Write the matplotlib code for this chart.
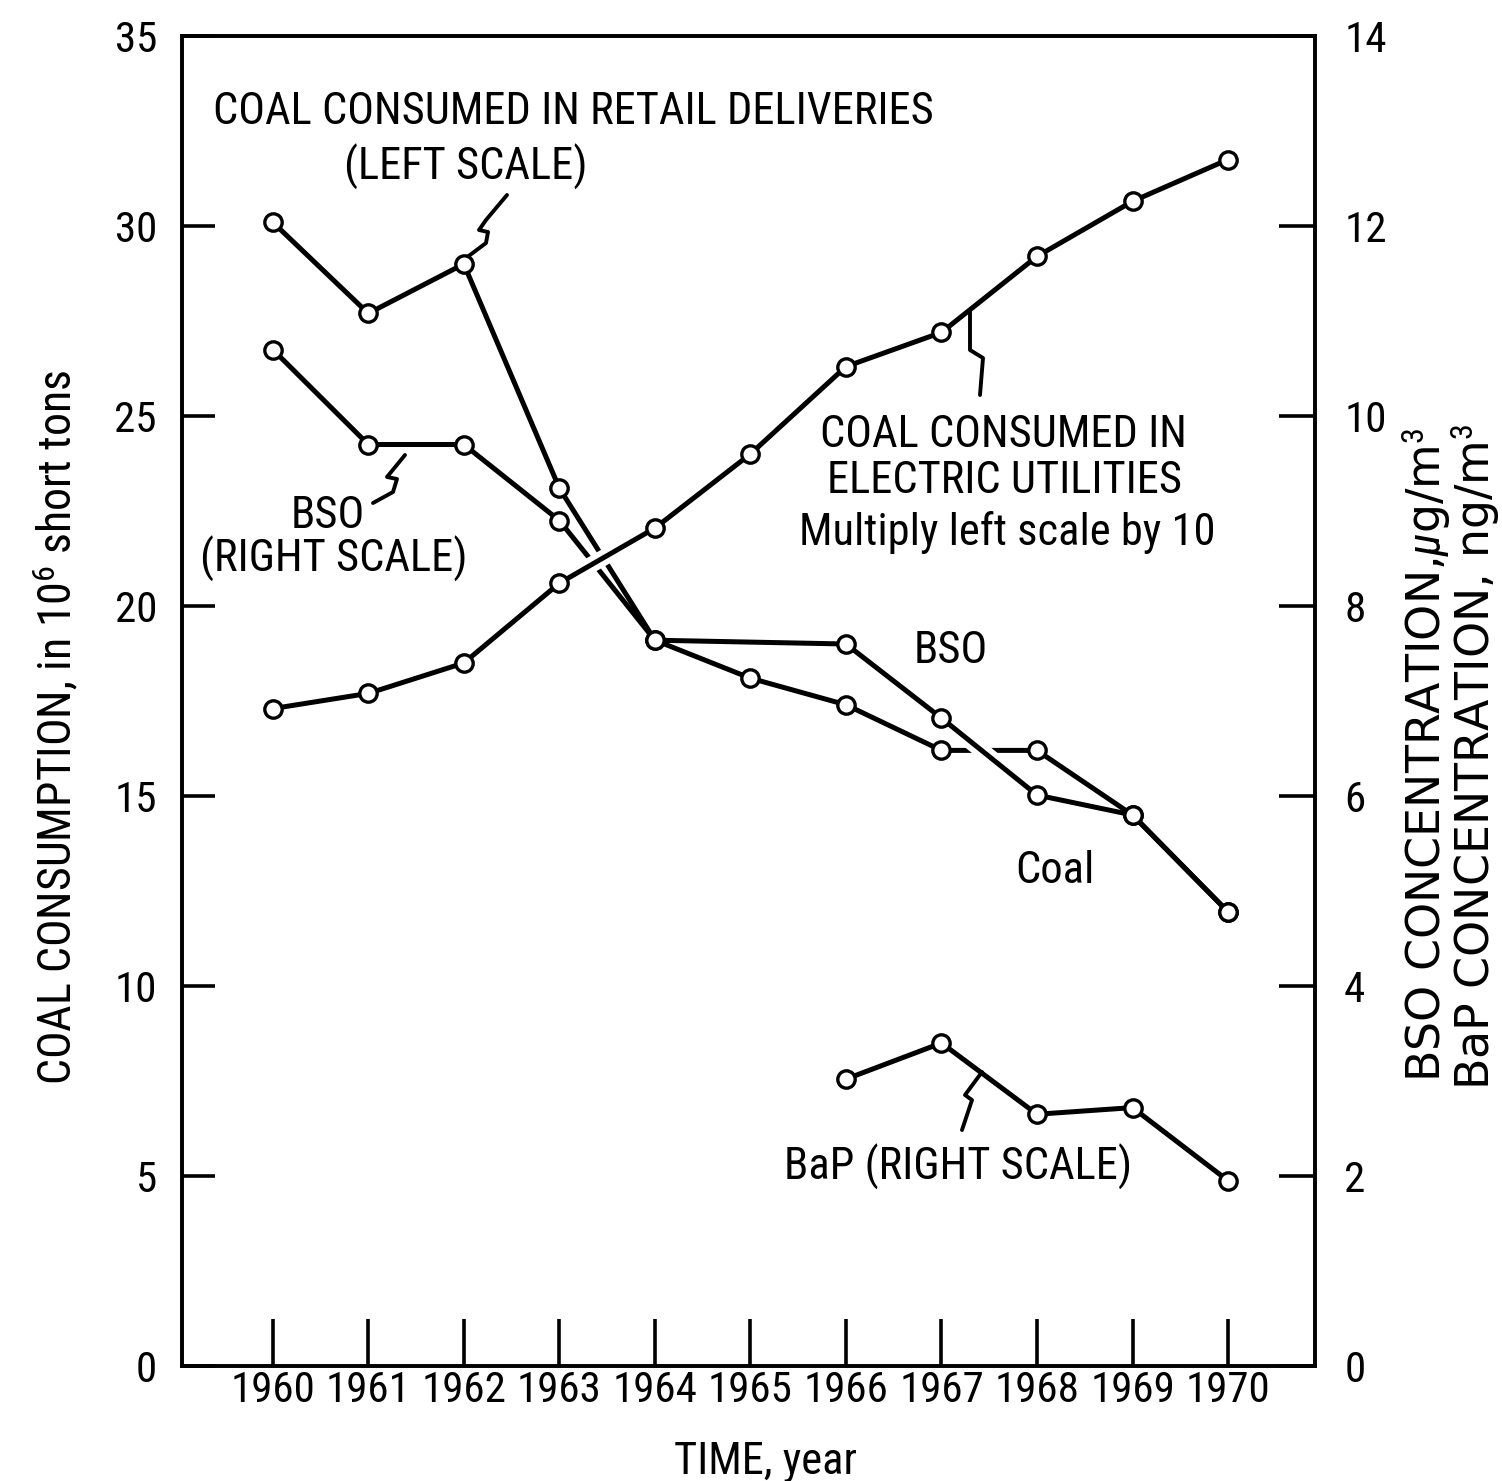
import matplotlib
matplotlib.use("Agg")
import matplotlib.pyplot as plt
import matplotlib.patheffects as pe
from matplotlib import font_manager as fm

# ---------------- data ----------------
years = [1960, 1961, 1962, 1963, 1964, 1965, 1966, 1967, 1968, 1969, 1970]
coal_retail = [30.1, 27.7, 29.0, 23.1, 19.1, 18.1, 17.4, 16.2, 16.2, 14.5, 11.95]
coal_electric = [17.3, 17.7, 18.5, 20.6, 22.05, 24.0, 26.3, 27.2, 29.2, 30.65, 31.75]
bso_years = [1960, 1961, 1962, 1963, 1964, 1966, 1967, 1968, 1969, 1970]
bso = [10.7, 9.7, 9.7, 8.9, 7.64, 7.6, 6.82, 6.01, 5.8, 4.78]
bap_years = [1966, 1967, 1968, 1969, 1970]
bap = [3.02, 3.40, 2.65, 2.72, 1.95]

left_ticks = [0, 5, 10, 15, 20, 25, 30, 35]
right_ticks = [0, 2, 4, 6, 8, 10, 12, 14]
year_labels = [str(y) for y in years]

# ---------------- font choice ----------------
available = {f.name for f in fm.fontManager.ttflist}
candidates = ['Roboto Condensed', 'Liberation Sans Narrow', 'Archivo Narrow',
              'PT Sans Narrow', 'Fira Sans Condensed', 'IBM Plex Sans Condensed',
              'Open Sans Condensed', 'Encode Sans Condensed', 'Asap Condensed',
              'Barlow Condensed', 'DejaVu Sans']
FONT_NAME = next(c for c in candidates if c in available)
plt.rcParams['font.family'] = [FONT_NAME, 'DejaVu Sans']
plt.rcParams['mathtext.fontset'] = 'custom'
plt.rcParams['mathtext.rm'] = FONT_NAME
plt.rcParams['mathtext.it'] = FONT_NAME + ':italic'

W, H = 1502, 1481
AX_L, AX_R, AX_T, AX_B = 182, 1315, 36, 1366
FS = 31
FS_ANN = 32
LW = 3.6

fig = plt.figure(figsize=(W / 100, H / 100), dpi=100)
ax = fig.add_axes([AX_L / W, 1 - AX_B / H, (AX_R - AX_L) / W, (AX_B - AX_T) / H])
ax2 = ax.twinx()

ax.set_xlim(1959.05, 1970.91)
ax.set_ylim(0, 35)
ax2.set_ylim(0, 14)
ax.set_autoscale_on(False)
ax2.set_autoscale_on(False)

for a in (ax, ax2):
    for s in a.spines.values():
        s.set_linewidth(2.6)

ax.set_xticks(years)
ax.set_xticklabels(year_labels)
ax.set_yticks(left_ticks)
ax.set_yticklabels([str(t) for t in left_ticks])
ax2.set_yticks(right_ticks)
ax2.set_yticklabels([str(t) for t in right_ticks])

ax.tick_params(axis='x', direction='in', length=34, width=2.6, pad=3, labelsize=FS)
ax.tick_params(axis='y', direction='in', length=24, width=2.6, pad=18, labelsize=FS)
ax2.tick_params(axis='y', direction='in', length=26, width=2.6, pad=21, labelsize=FS)

halo = [pe.Stroke(linewidth=LW + 8, foreground='white'), pe.Normal()]
mk = dict(linestyle='none', marker='o', markersize=12.5, markerfacecolor='white',
          markeredgecolor='black', markeredgewidth=2.4, zorder=8)

# retail coal (left scale)
ax.plot(years, coal_retail, color='black', lw=LW, zorder=2)
# BSO (right scale) drawn in the main axes through the right-scale transform
ax.plot(bso_years, bso, color='black', lw=LW, zorder=3, transform=ax2.transData)
ax.plot(bso_years[6:8], bso[6:8], color='black', lw=LW, zorder=3.5,
        transform=ax2.transData, path_effects=halo)
# electric utilities coal (left scale x10)
ax.plot(years, coal_electric, color='black', lw=LW, zorder=4, path_effects=halo)
# BaP (right scale)
ax.plot(bap_years, bap, color='black', lw=LW, zorder=3, transform=ax2.transData)

ax.plot(years, coal_retail, **mk)
ax.plot(bso_years, bso, transform=ax2.transData, **mk)
ax.plot(years, coal_electric, **mk)
ax.plot(bap_years, bap, transform=ax2.transData, **mk)


def axpt(px, py):
    return ((px - AX_L) / (AX_R - AX_L), (AX_B - py) / (AX_B - AX_T))


def leader(pts):
    xs, ys = zip(*[axpt(px, py) for px, py in pts])
    ax.plot(xs, ys, color='black', lw=2.8, transform=ax.transAxes, zorder=5,
            solid_capstyle='round', solid_joinstyle='round', clip_on=False)


leader([(507, 195), (486, 220), (479, 230), (488, 232), (486, 243), (466, 258)])
leader([(405, 455), (387, 477), (397, 479), (393, 492), (373, 503)])
leader([(970, 312), (970, 350), (983, 358), (980, 395)])
leader([(982, 1072), (965, 1095), (972, 1100), (962, 1130)])


def ftext(px, py, s, **kw):
    kw.setdefault('ha', 'center')
    kw.setdefault('va', 'baseline')
    kw.setdefault('fontsize', FS_ANN)
    fig.text(px / W, 1 - py / H, s, **kw)


ftext(573, 124, 'COAL CONSUMED IN RETAIL DELIVERIES')
ftext(466, 180, '(LEFT SCALE)')
ftext(328, 528, 'BSO')
ftext(334, 572, '(RIGHT SCALE)')
ftext(1003, 447, 'COAL CONSUMED IN')
ftext(1005, 493, 'ELECTRIC UTILITIES')
ftext(1007, 545, 'Multiply left scale by 10')
ftext(951, 663, 'BSO')
ftext(1055, 883, 'Coal')
ftext(958, 1180, 'BaP (RIGHT SCALE)')
ftext(765, 1474, 'TIME, year')

ftext(72, 727, 'COAL CONSUMPTION, in 10$^6$ short tons', rotation=90,
      rotation_mode='anchor', fontsize=33)
ftext(1441, 755, 'BSO CONCENTRATION,$\\mu$g/m$^3$', rotation=90,
      rotation_mode='anchor', fontsize=33, family=['DejaVu Sans'])
ftext(1490, 757, 'BaP CONCENTRATION, ng/m$^3$', rotation=90,
      rotation_mode='anchor', fontsize=33, family=['DejaVu Sans'])

fig.savefig('out.png', dpi=100)
